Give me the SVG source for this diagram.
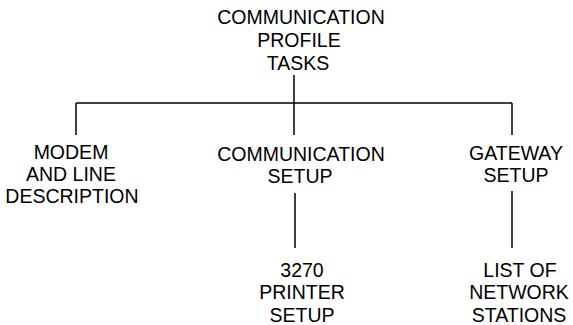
<svg xmlns="http://www.w3.org/2000/svg" width="573" height="325" viewBox="0 0 573 325">
<style>
text{font-family:"Liberation Sans",Arial,sans-serif;font-size:19.5px;fill:#000;text-anchor:middle}
.c line{stroke:#000;stroke-width:1.5;fill:none}
</style>
<rect width="573" height="325" fill="#fff"/>
<g class="c" id="connectors">
<line x1="294" y1="75" x2="294" y2="135"/>
<line x1="76" y1="103" x2="512" y2="103"/>
<line x1="76" y1="103" x2="76" y2="135"/>
<line x1="512" y1="103" x2="512" y2="135"/>
<line x1="295" y1="193" x2="295" y2="248"/>
<line x1="512" y1="191" x2="512" y2="248"/>
</g>
<g id="root">
<text x="301" y="24">COMMUNICATION</text>
<text x="299" y="47">PROFILE</text>
<text x="298" y="70">TASKS</text>
</g>
<g id="modem">
<text x="71" y="159">MODEM</text>
<text x="71" y="181">AND LINE</text>
<text x="72" y="203">DESCRIPTION</text>
</g>
<g id="commsetup">
<text x="301" y="161">COMMUNICATION</text>
<text x="300" y="183">SETUP</text>
</g>
<g id="gateway">
<text x="516" y="160">GATEWAY</text>
<text x="516" y="182">SETUP</text>
</g>
<g id="printer">
<text x="302" y="277">3270</text>
<text x="302" y="299">PRINTER</text>
<text x="302" y="322">SETUP</text>
</g>
<g id="stations">
<text x="520" y="277">LIST OF</text>
<text x="519" y="299">NETWORK</text>
<text x="519" y="322">STATIONS</text>
</g>
</svg>
